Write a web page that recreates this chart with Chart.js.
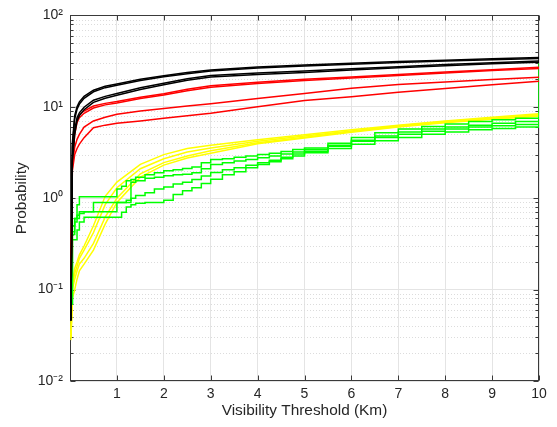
<!DOCTYPE html>
<html><head><meta charset="utf-8">
<script src="https://cdn.jsdelivr.net/npm/chart.js@4.4.1/dist/chart.umd.min.js"></script>
<style>html,body{margin:0;padding:0;background:#fff;}</style>
</head><body>
<canvas id="c" width="557" height="427"></canvas>
<script>
// ---- data ----
const xCurve = [0.02,0.05,0.1,0.15,0.2,0.3,0.5,0.75,1,1.5,2,2.5,3,4,5,6,7,8,9,10];
const black1 = [0.046,4.0,8.0,10.0,11.3,13.0,15.2,16.8,17.8,20.0,21.9,23.7,25.3,27.2,28.6,30.0,31.3,32.4,33.5,34.6];
const black2 = [0.046,3.6,7.4,9.4,10.7,12.4,14.6,16.2,17.2,19.4,21.3,23.0,24.6,26.5,27.9,29.3,30.6,31.7,32.7,33.7];
const black3 = [0.046,2.8,5.5,7.6,8.6,9.9,11.8,13.0,14.0,16.2,18.1,20.3,22.0,23.4,24.6,26.0,27.5,29.0,30.4,31.8];
const black4 = [0.046,2.5,5.0,7.0,8.0,9.3,11.2,12.4,13.4,15.5,17.4,19.5,21.2,22.6,23.8,25.2,26.7,28.2,29.5,30.8];
const red1 = [0.1,2.6,5.5,7.2,8.2,9.0,10.2,10.9,11.4,12.7,13.9,15.6,17.0,18.6,20.0,21.2,22.6,24.0,25.5,27.0];
const red2 = [0.1,2.5,5.0,6.7,7.6,8.5,9.7,10.5,11.0,12.3,13.5,15.0,16.4,18.0,19.4,20.7,22.0,23.4,24.9,26.3];
const red3 = [0.1,2.3,3.6,4.4,5.0,6.0,7.0,7.7,8.3,9.0,9.6,10.2,10.8,12.3,14.0,16.0,17.5,18.7,19.9,21.0];
const red4 = [0.1,2.0,3.0,3.5,3.9,4.6,5.9,6.3,6.6,7.0,7.5,8.0,8.5,10.0,11.7,12.9,14.4,15.9,17.4,19.0];
const yellow1 = [0.03,0.12,0.17,0.2,0.24,0.3,0.5,1.05,1.5,2.35,3.0,3.5,3.8,4.35,4.95,5.6,6.3,7.0,7.7,8.4];
const yellow2 = [0.03,0.11,0.15,0.18,0.22,0.27,0.42,0.85,1.3,2.1,2.7,3.2,3.55,4.2,4.8,5.45,6.2,6.9,7.5,8.2];
const yellow3 = [0.03,0.1,0.13,0.16,0.19,0.22,0.32,0.62,1.0,1.85,2.45,2.9,3.3,4.05,4.65,5.35,6.1,6.8,7.4,8.0];
const yellow4 = [0.028,0.08,0.1,0.13,0.16,0.19,0.27,0.52,0.9,1.7,2.3,2.75,3.1,3.95,4.55,5.25,6.0,6.7,7.3,7.9];

const xStep = [0,0.05,0.1,0.15,0.2,0.3,0.4,0.5,0.6,0.7,0.8,0.9,1.0,1.1,1.2,1.3,1.4,1.6,1.8,2.0,2.2,2.4,2.6,2.8,3.0,3.25,3.5,3.75,4.0,4.25,4.5,4.75,5.0,5.5,6.0,6.5,7.0,7.5,8.0,8.5,9.0,9.5,10,10];
const green1 = [0.07,0.4,0.6,0.85,1.04,1.04,1.04,1.04,1.04,1.04,1.04,1.04,1.26,1.35,1.55,1.6,1.7,1.8,1.9,2.0,2.05,2.11,2.2,2.45,2.65,2.7,2.8,2.9,3.0,3.1,3.25,3.4,3.55,4.0,4.6,5.2,5.7,6.1,6.5,6.9,7.2,7.5,7.8,7.8];
const green2 = [0.07,0.5,0.55,0.6,0.71,0.71,0.71,0.9,0.9,0.9,0.9,0.9,0.9,0.9,0.9,1.49,1.55,1.65,1.7,1.76,1.8,1.83,1.9,2.1,2.34,2.45,2.55,2.65,2.77,2.9,3.05,3.2,3.4,3.8,4.3,4.8,5.3,5.7,6.0,6.3,6.6,6.9,7.1,7.1];
const green3 = [0.07,0.43,0.6,0.65,0.68,0.71,0.71,0.71,0.71,0.71,0.71,0.71,0.9,0.9,0.95,1.0,1.07,1.15,1.26,1.33,1.43,1.49,1.6,1.75,1.91,2.05,2.15,2.3,2.44,2.6,2.8,3.05,3.27,3.7,4.2,4.6,5.0,5.4,5.7,6.0,6.2,6.4,6.6,6.6];
const green4 = [0.07,0.35,0.35,0.45,0.55,0.62,0.62,0.62,0.62,0.62,0.62,0.62,0.62,0.7,0.8,0.85,0.88,0.9,0.9,0.95,1.1,1.21,1.3,1.45,1.61,1.8,1.95,2.15,2.34,2.5,2.7,2.9,3.14,3.5,3.9,4.25,4.6,5.0,5.3,5.6,5.8,6.0,6.2,30];

const xTickValues = [0,1,2,3,4,5,6,7,8,9,10];
const yTickValues = [0.01,0.1,1,10,100];
const yTickLabels = ['10\u207B\u00B2','10\u207B\u00B9','10\u2070','10\u00B9','10\u00B2'];
const xTitle = 'Visibility Threshold (Km)';
const yTitle = 'Probability';

// ---- build datasets ----
function pts(xs, ys){ return xs.map((x,i)=>({x:x, y:ys[i]})); }
function ds(xs, ys, color, stepped){
  return {data: pts(xs, ys), borderColor: color, backgroundColor: color, borderWidth: 1.5,
          pointRadius: 0, tension: 0, fill: false, stepped: stepped || false};
}
const datasets = [
  ds(xCurve, black1, '#000000'), ds(xCurve, black2, '#000000'),
  ds(xCurve, black3, '#000000'), ds(xCurve, black4, '#000000'),
  ds(xCurve, red1, '#ff0000'), ds(xCurve, red2, '#ff0000'),
  ds(xCurve, red3, '#ff0000'), ds(xCurve, red4, '#ff0000'),
  ds(xStep, green1, '#00ff00', true), ds(xStep, green2, '#00ff00', true),
  ds(xStep, green3, '#00ff00', true), ds(xStep, green4, '#00ff00', true),
  ds(xCurve, yellow1, '#ffff00'), ds(xCurve, yellow2, '#ffff00'),
  ds(xCurve, yellow3, '#ffff00'), ds(xCurve, yellow4, '#ffff00')
];

const FONT = "'Liberation Sans', Arial, Helvetica, sans-serif";
const TXT = '#262626';

const framePlugin = {
  id: 'frame',
  beforeDatasetsDraw(chart){
    const {ctx, chartArea: a, scales: {x, y}} = chart;
    ctx.save();
    // minor dotted grid
    ctx.strokeStyle = '#dcdcdc';
    ctx.lineWidth = 1;
    ctx.setLineDash([1, 2]);
    const minors = [];
    for (let k = -2; k <= 1; k++) for (let m = 2; m <= 9; m++) minors.push(m * Math.pow(10, k));
    minors.forEach(v => {
      const py = Math.round(y.getPixelForValue(v)) + 0.5;
      ctx.beginPath(); ctx.moveTo(a.left, py); ctx.lineTo(a.right, py); ctx.stroke();
    });
    ctx.setLineDash([]);
    // frame
    ctx.strokeStyle = '#3a3a3a';
    const L = Math.round(a.left) + 0.5, R = Math.round(a.right) - 0.5;
    const T = Math.round(a.top) + 0.5, B = Math.round(a.bottom) - 0.5;
    ctx.strokeRect(L, T, R - L, B - T);
    // inward ticks
    ctx.beginPath();
    xTickValues.forEach(v => {
      const px = Math.round(x.getPixelForValue(v)) + 0.5;
      ctx.moveTo(px, B); ctx.lineTo(px, B - 5);
      ctx.moveTo(px, T); ctx.lineTo(px, T + 5);
    });
    yTickValues.forEach(v => {
      const py = Math.round(y.getPixelForValue(v)) + 0.5;
      ctx.moveTo(L, py); ctx.lineTo(L + 5, py);
      ctx.moveTo(R, py); ctx.lineTo(R - 5, py);
    });
    minors.forEach(v => {
      const py = Math.round(y.getPixelForValue(v)) + 0.5;
      ctx.moveTo(L, py); ctx.lineTo(L + 3, py);
      ctx.moveTo(R, py); ctx.lineTo(R - 3, py);
    });
    ctx.stroke();
    ctx.restore();
  }
};

new Chart(document.getElementById('c'), {
  type: 'line',
  data: { datasets },
  plugins: [framePlugin],
  options: {
    responsive: false,
    animation: false,
    devicePixelRatio: 1,
    layout: { padding: { top: 10, right: 18, left: 0, bottom: 0 } },
    plugins: { legend: { display: false }, tooltip: { enabled: false } },
    scales: {
      x: {
        type: 'linear', min: 0, max: 10,
        afterBuildTicks: s => { s.ticks = xTickValues.map(v => ({value: v})); },
        afterFit: s => { s.height = 46; },
        ticks: { autoSkip: false, maxRotation: 0, padding: 5, color: TXT,
                 font: { family: FONT, size: 14 },
                 callback: v => (v === 0 ? '' : String(v)) },
        grid: { color: '#e4e4e4', lineWidth: 1, drawTicks: false },
        border: { display: false },
        title: { display: true, text: xTitle, color: TXT,
                 font: { family: FONT, size: 15.4 }, padding: { top: 0, bottom: 7 } }
      },
      y: {
        type: 'logarithmic', min: 0.01, max: 100,
        afterBuildTicks: s => { s.ticks = yTickValues.map(v => ({value: v})); },
        afterFit: s => { s.width = 70; },
        ticks: { autoSkip: false, padding: 7, color: TXT,
                 font: { family: FONT, size: 14 },
                 callback: v => {
                   let best = 0;
                   yTickValues.forEach((t, i) => { if (Math.abs(Math.log10(t) - Math.log10(v)) < Math.abs(Math.log10(yTickValues[best]) - Math.log10(v))) best = i; });
                   return yTickLabels[best];
                 } },
        grid: { color: '#e4e4e4', lineWidth: 1, drawTicks: false },
        border: { display: false },
        title: { display: true, text: yTitle, color: TXT,
                 font: { family: FONT, size: 15.4 }, padding: { top: 13, bottom: 0 } }
      }
    }
  }
});
</script>
</body></html>
